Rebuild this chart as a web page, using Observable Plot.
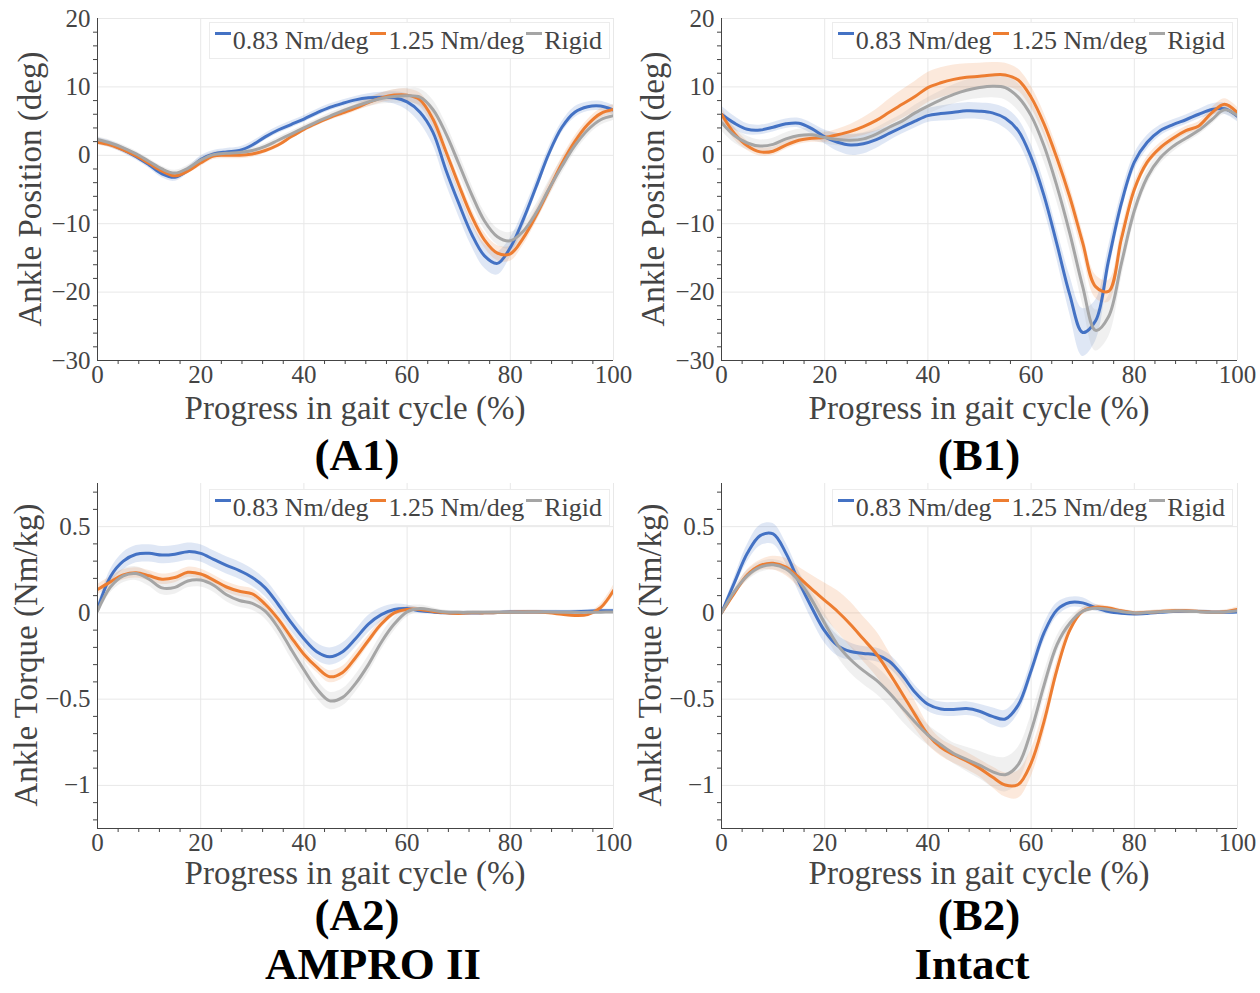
<!DOCTYPE html>
<html><head><meta charset="utf-8">
<script src="https://cdn.jsdelivr.net/npm/d3@7"></script>
<script src="https://cdn.jsdelivr.net/npm/@observablehq/plot@0.6"></script>
<style>
body{margin:0;background:#fff;}
#root{position:relative;width:1260px;height:993px;background:#fff;font-family:"Liberation Serif","Times New Roman",serif;color:#444;overflow:hidden}
.panel{position:absolute}
.ytitle{position:absolute;font-size:33px;white-space:nowrap;transform:translate(-50%,-50%) rotate(-90deg);color:#444}
.xtitle{position:absolute;font-size:33px;white-space:nowrap;transform:translate(-50%,-50%);color:#444}
.legend{position:absolute;border:1px solid #ececec;background:#fff;display:flex;align-items:center;height:35px;font-size:26px;white-space:nowrap;padding:0 5px;color:#444}
.sw{display:inline-block;width:16px;height:3px;margin-right:2px;position:relative;top:-7px}
.item{margin-right:2px}
.cap{position:absolute;font-weight:bold;color:#000;font-size:45px;line-height:36px;transform:translate(-50%,-50%);white-space:nowrap}
</style>
</head><body><div id="root"></div>
<script>
// ---- shared axes / categories ----
const X = [0,2.5,5,7.5,10,12.5,15,17.5,20,22.5,25,27.5,30,32.5,35,37.5,40,42.5,45,47.5,50,52.5,55,57.5,60,62.5,65,67.5,70,72.5,75,77.5,80,82.5,85,87.5,90,92.5,95,97.5,100];
const xDomain = [0, 100];
const xTicks = [0,20,40,60,80,100];
const xMinor = [4,8,12,16,24,28,32,36,44,48,52,56,64,68,72,76,84,88,92,96];
const posDomain = [-30, 20];
const posTicks = [-30,-20,-10,0,10,20];
const posMinor = [-28,-26,-24,-22,-18,-16,-14,-12,-8,-6,-4,-2,2,4,6,8,12,14,16,18];
const torDomain = [-1.25, 0.75];
const torTicks = [-1,-0.5,0,0.5];
const torMinor = [-1.2,-1.1,-0.9,-0.8,-0.7,-0.6,-0.4,-0.3,-0.2,-0.1,0.1,0.2,0.3,0.4,0.6,0.7];
const seriesNames = ["0.83 Nm/deg","1.25 Nm/deg","Rigid"];
const seriesColors = ["#4472c4","#ed7d31","#a5a5a5"];
const xTitle = "Progress in gait cycle (%)";
const posTitle = "Ankle Position (deg)";
const torTitle = "Ankle Torque (Nm/kg)";

// ---- (A1) AMPRO II ankle position ----
const a1Blue = [2.1,1.6,0.8,-0.2,-1.4,-2.7,-3.2,-2.2,-0.6,0.2,0.5,0.7,1.5,2.7,3.7,4.5,5.3,6.2,7.0,7.6,8.1,8.4,8.5,8.4,7.8,6.3,3.4,-2.1,-7.0,-11.5,-14.7,-15.8,-13.5,-9.4,-4.6,0.3,4.1,6.3,7.1,7.2,6.6];
const a1Orange = [1.9,1.5,0.8,-0.1,-1.2,-2.3,-3.0,-2.3,-1.1,-0.1,0.0,0.0,0.2,0.7,1.5,2.7,3.8,4.7,5.5,6.2,6.9,7.7,8.4,8.8,8.8,8.1,5.3,0.6,-4.3,-8.9,-12.4,-14.3,-14.4,-12.1,-8.8,-5.0,-1.2,2.0,4.5,6.1,6.7];
const a1Grey = [2.3,1.8,1.1,0.2,-0.9,-2.0,-2.6,-1.9,-0.7,0.1,0.3,0.4,0.7,1.3,2.2,3.1,4.0,4.9,5.7,6.5,7.2,7.8,8.3,8.6,8.7,8.5,6.7,3.2,-1.2,-5.7,-9.6,-11.9,-12.5,-11.1,-8.4,-4.9,-1.6,1.4,3.7,5.2,5.8];
const a1BlueSd = [0.5,0.5,0.5,0.5,0.5,0.6,0.6,0.5,0.5,0.5,0.5,0.5,0.5,0.5,0.5,0.5,0.5,0.5,0.5,0.5,0.5,0.6,0.7,0.9,1.2,1.6,1.9,2.0,1.9,1.8,1.8,1.7,1.4,1.2,1.0,0.9,0.8,0.8,0.7,0.7,0.7];
const a1OrangeSd = [0.4,0.4,0.4,0.4,0.4,0.4,0.4,0.4,0.5,0.5,0.5,0.5,0.5,0.4,0.4,0.4,0.4,0.4,0.4,0.5,0.5,0.6,0.7,0.8,0.9,1.0,1.1,1.1,1.1,1.1,1.1,1.1,1.1,1.1,1.0,1.0,0.9,0.8,0.7,0.7,0.7];
const a1GreySd = [0.4,0.4,0.4,0.4,0.4,0.4,0.4,0.4,0.4,0.4,0.4,0.4,0.4,0.4,0.4,0.4,0.4,0.4,0.5,0.5,0.6,0.7,0.8,1.0,1.1,1.2,1.4,1.5,1.5,1.4,1.3,1.2,1.2,1.2,1.2,1.2,1.1,1.0,0.9,0.8,0.7];

// ---- (B1) Intact ankle position ----
const b1Blue = [6.0,4.7,3.8,3.7,4.1,4.6,4.7,3.9,2.7,1.9,1.5,1.7,2.3,3.2,4.1,5.0,5.8,6.1,6.3,6.5,6.45,6.2,5.4,3.6,-0.3,-5.9,-13.0,-20.4,-25.9,-24.2,-15.4,-7.0,-1.0,1.9,3.6,4.5,5.2,6.0,6.7,6.8,5.7];
const b1Orange = [6.0,3.2,1.4,0.5,0.6,1.5,2.2,2.5,2.6,3.0,3.5,4.2,5.1,6.3,7.45,8.6,9.9,10.6,11.1,11.4,11.55,11.75,11.75,11.0,8.5,4.6,-0.4,-6.1,-12.8,-19.2,-19.9,-12.2,-5.0,-1.0,1.1,2.5,3.6,4.3,6.2,7.45,6.2];
const b1Grey = [4.8,2.9,1.8,1.35,1.6,2.4,2.9,3.0,2.6,2.3,2.2,2.4,3.1,4.1,5.0,6.2,7.2,8.1,8.9,9.5,9.9,10.1,9.9,8.5,5.8,1.4,-4.5,-11.4,-19.2,-25.6,-23.6,-15.8,-8.1,-3.2,-0.4,1.3,2.5,3.65,5.2,6.65,5.8];
const b1BlueSd = [1.2,1.0,0.8,0.7,0.7,0.7,0.7,0.8,1.0,1.3,1.5,1.5,1.3,1.1,1.0,1.0,1.0,1.1,1.2,1.2,1.2,1.3,1.5,1.7,1.9,2.0,2.2,2.8,3.5,3.0,2.0,1.5,1.2,1.0,0.8,0.7,0.7,0.7,0.8,0.8,0.8];
const b1OrangeSd = [1.0,0.9,0.7,0.6,0.6,0.6,0.6,0.6,0.7,0.8,1.0,1.3,1.6,1.9,2.1,2.2,2.2,2.2,2.1,2.0,1.9,1.8,1.7,1.6,1.6,1.6,1.6,1.6,1.6,1.7,1.6,1.3,1.0,0.8,0.7,0.6,0.6,0.6,0.7,0.8,0.8];
const b1GreySd = [1.2,1.1,1.0,0.9,0.9,0.9,0.9,0.9,0.9,0.9,0.9,0.9,0.9,0.9,1.0,1.1,1.2,1.3,1.4,1.5,1.6,1.7,1.8,2.0,2.2,2.3,2.3,2.4,2.6,3.0,3.0,2.2,1.5,1.1,0.9,0.8,0.7,0.7,0.7,0.7,0.7];

// ---- (A2) AMPRO II ankle torque ----
const a2Blue = [0.02,0.21,0.30,0.34,0.345,0.335,0.34,0.355,0.345,0.31,0.275,0.245,0.205,0.145,0.05,-0.055,-0.15,-0.225,-0.254,-0.225,-0.15,-0.065,-0.01,0.02,0.025,0.012,0.005,0.0,0.0,0.0,0.0,0.002,0.005,0.005,0.005,0.005,0.005,0.007,0.01,0.012,0.012];
const a2Orange = [0.135,0.18,0.22,0.232,0.215,0.195,0.205,0.235,0.225,0.19,0.15,0.125,0.11,0.05,-0.035,-0.14,-0.24,-0.315,-0.37,-0.345,-0.26,-0.16,-0.065,0.0,0.02,0.02,0.008,0.0,-0.003,0.0,0.0,0.002,0.004,0.005,0.005,0.0,-0.008,-0.015,-0.01,0.03,0.13];
const a2Grey = [0.01,0.15,0.215,0.228,0.195,0.145,0.148,0.185,0.19,0.16,0.105,0.072,0.055,0.01,-0.085,-0.21,-0.33,-0.44,-0.51,-0.49,-0.41,-0.30,-0.17,-0.065,0.006,0.025,0.015,0.005,0.003,0.003,0.003,0.003,0.003,0.004,0.005,0.005,0.004,0.003,0.003,0.004,0.005];
const a2BlueSd = [0.02,0.04,0.05,0.05,0.05,0.05,0.05,0.05,0.05,0.05,0.05,0.05,0.05,0.05,0.05,0.05,0.05,0.05,0.05,0.05,0.05,0.05,0.04,0.03,0.02,0.015,0.01,0.01,0.01,0.01,0.01,0.01,0.01,0.01,0.01,0.01,0.01,0.01,0.01,0.01,0.01];
const a2OrangeSd = [0.03,0.03,0.03,0.03,0.03,0.03,0.03,0.03,0.03,0.03,0.03,0.03,0.03,0.03,0.03,0.03,0.03,0.03,0.035,0.035,0.035,0.03,0.025,0.02,0.015,0.01,0.01,0.01,0.01,0.01,0.01,0.01,0.01,0.01,0.01,0.01,0.01,0.01,0.01,0.02,0.03];
const a2GreySd = [0.02,0.035,0.04,0.04,0.04,0.04,0.04,0.04,0.04,0.04,0.04,0.04,0.04,0.045,0.05,0.055,0.055,0.055,0.05,0.05,0.05,0.05,0.045,0.04,0.03,0.02,0.015,0.01,0.01,0.01,0.01,0.01,0.01,0.01,0.01,0.01,0.01,0.01,0.01,0.01,0.01];

// ---- (B2) Intact ankle torque ----
const b2Blue = [0.0,0.175,0.345,0.448,0.458,0.345,0.18,0.03,-0.105,-0.19,-0.224,-0.235,-0.244,-0.28,-0.36,-0.46,-0.53,-0.557,-0.56,-0.555,-0.57,-0.6,-0.615,-0.535,-0.335,-0.116,0.017,0.06,0.058,0.03,0.008,-0.002,-0.006,-0.003,0.003,0.008,0.01,0.008,0.004,0.003,0.005];
const b2Orange = [0.0,0.115,0.22,0.275,0.288,0.265,0.205,0.138,0.073,0.008,-0.067,-0.152,-0.237,-0.348,-0.467,-0.59,-0.705,-0.78,-0.822,-0.858,-0.9,-0.952,-0.998,-0.995,-0.871,-0.63,-0.33,-0.1,0.01,0.033,0.028,0.012,0.0,0.003,0.008,0.012,0.012,0.008,0.003,0.006,0.02];
const b2Grey = [0.0,0.125,0.215,0.265,0.279,0.255,0.185,0.075,-0.06,-0.185,-0.27,-0.335,-0.39,-0.463,-0.548,-0.633,-0.708,-0.764,-0.815,-0.849,-0.882,-0.92,-0.938,-0.88,-0.684,-0.42,-0.185,-0.06,0.01,0.027,0.02,0.008,0.0,0.002,0.006,0.01,0.01,0.007,0.003,0.005,0.012];
const b2BlueSd = [0.005,0.03,0.05,0.06,0.06,0.06,0.06,0.07,0.07,0.06,0.05,0.04,0.04,0.04,0.04,0.04,0.04,0.04,0.04,0.04,0.04,0.05,0.05,0.05,0.05,0.05,0.04,0.03,0.03,0.02,0.015,0.01,0.01,0.01,0.01,0.01,0.01,0.01,0.01,0.01,0.01];
const b2OrangeSd = [0.005,0.02,0.03,0.03,0.04,0.05,0.06,0.08,0.1,0.12,0.13,0.13,0.13,0.12,0.1,0.08,0.06,0.05,0.05,0.05,0.05,0.06,0.07,0.08,0.08,0.07,0.05,0.03,0.02,0.015,0.01,0.01,0.01,0.01,0.01,0.01,0.01,0.01,0.01,0.01,0.015];
const b2GreySd = [0.005,0.02,0.03,0.03,0.03,0.03,0.04,0.05,0.06,0.07,0.08,0.08,0.08,0.08,0.08,0.07,0.06,0.06,0.06,0.07,0.08,0.09,0.1,0.1,0.09,0.07,0.05,0.03,0.02,0.015,0.01,0.01,0.01,0.01,0.01,0.01,0.01,0.01,0.01,0.01,0.01];

const captions = [
  {text:"(A1)", x:357, y:455}, {text:"(B1)", x:979, y:455},
  {text:"(A2)", x:357, y:915}, {text:"(B2)", x:979, y:915},
  {text:"AMPRO II", x:373, y:964}, {text:"Intact", x:972, y:964}
];

const panels = [
  {left:0, top:0, h:430, ml:97, mr:17, yDomain:posDomain, yTicks:posTicks, yMinor:posMinor, ytitle:posTitle,
   means:[a1Blue,a1Orange,a1Grey], sds:[a1BlueSd,a1OrangeSd,a1GreySd], yt:[30,189], xt:[355,408], legRight:650, legTop:22},
  {left:630, top:0, h:430, ml:91, mr:23, yDomain:posDomain, yTicks:posTicks, yMinor:posMinor, ytitle:posTitle,
   means:[b1Blue,b1Orange,b1Grey], sds:[b1BlueSd,b1OrangeSd,b1GreySd], yt:[653,189], xt:[979,408], legRight:27, legTop:22},
  {left:0, top:465, h:433, ml:97, mr:17, yDomain:torDomain, yTicks:torTicks, yMinor:torMinor, ytitle:torTitle,
   means:[a2Blue,a2Orange,a2Grey], sds:[a2BlueSd,a2OrangeSd,a2GreySd], yt:[26,655], xt:[355,873], legRight:650, legTop:489},
  {left:630, top:465, h:433, ml:91, mr:23, yDomain:torDomain, yTicks:torTicks, yMinor:torMinor, ytitle:torTitle,
   means:[b2Blue,b2Orange,b2Grey], sds:[b2BlueSd,b2OrangeSd,b2GreySd], yt:[650,655], xt:[979,873], legRight:27, legTop:489}
];

const root = document.getElementById("root");
const fmt = d3.format("");

for (const p of panels) {
  p.means.forEach((m, k) => { if (m.length !== X.length || p.sds[k].length !== X.length) throw new Error("length mismatch " + p.ytitle + " " + k + " " + m.length + "/" + p.sds[k].length); });
  const rows = [];
  p.means.forEach((m, k) => m.forEach((v, i) => rows.push({x: X[i], y: v, lo: v - p.sds[k][i], hi: v + p.sds[k][i], name: seriesNames[k]})));
  const chart = Plot.plot({
    width: 630, height: p.h,
    marginLeft: p.ml, marginRight: p.mr, marginTop: 18, marginBottom: 70,
    x: {domain: xDomain},
    y: {domain: p.yDomain},
    color: {domain: seriesNames, range: seriesColors},
    style: {fontFamily: '"Liberation Serif","Times New Roman",serif', fontSize: "25px", color: "#444", background: "transparent", overflow: "visible"},
    marks: [
      Plot.gridX(xTicks, {stroke: "#e8e8e8", strokeOpacity: 1}),
      Plot.gridY(p.yTicks, {stroke: "#e8e8e8", strokeOpacity: 1}),
      Plot.areaY(rows, {x: "x", y1: "lo", y2: "hi", z: "name", fill: "name", fillOpacity: 0.17, curve: "catmull-rom", clip: true}),
      Plot.line(rows, {x: "x", y: "y", z: "name", stroke: "name", strokeWidth: 3, curve: "catmull-rom", clip: true}),
      Plot.ruleX([xDomain[0]], {stroke: "#444", strokeWidth: 1}),
      Plot.ruleY([p.yDomain[0]], {stroke: "#444", strokeWidth: 1}),
      Plot.axisX(xTicks, {tickSize: 0, tickPadding: 5, label: null, tickFormat: fmt}),
      Plot.axisX(xMinor, {tickSize: 4, label: null, tickFormat: () => ""}),
      Plot.axisY(p.yTicks, {tickSize: 0, tickPadding: 7, label: null, tickFormat: fmt}),
      Plot.axisY(p.yMinor, {tickSize: 4, label: null, tickFormat: () => ""})
    ]
  });
  const wrap = document.createElement("div");
  wrap.className = "panel";
  wrap.style.left = p.left + "px"; wrap.style.top = p.top + "px";
  wrap.appendChild(chart);
  root.appendChild(wrap);

  const yt = document.createElement("div");
  yt.className = "ytitle"; yt.textContent = p.ytitle;
  yt.style.left = p.yt[0] + "px"; yt.style.top = p.yt[1] + "px";
  root.appendChild(yt);
  const xt = document.createElement("div");
  xt.className = "xtitle"; xt.textContent = xTitle;
  xt.style.left = p.xt[0] + "px"; xt.style.top = p.xt[1] + "px";
  root.appendChild(xt);

  const leg = document.createElement("div");
  leg.className = "legend";
  leg.style.right = p.legRight + "px"; leg.style.top = p.legTop + "px";
  seriesNames.forEach((n, k) => {
    const sw = document.createElement("span"); sw.className = "sw"; sw.style.background = seriesColors[k];
    const t = document.createElement("span"); t.className = "item"; t.textContent = n;
    leg.appendChild(sw); leg.appendChild(t);
  });
  root.appendChild(leg);
}

for (const c of captions) {
  const d = document.createElement("div");
  d.className = "cap"; d.textContent = c.text;
  d.style.left = c.x + "px"; d.style.top = c.y + "px";
  root.appendChild(d);
}
</script>
</body></html>
